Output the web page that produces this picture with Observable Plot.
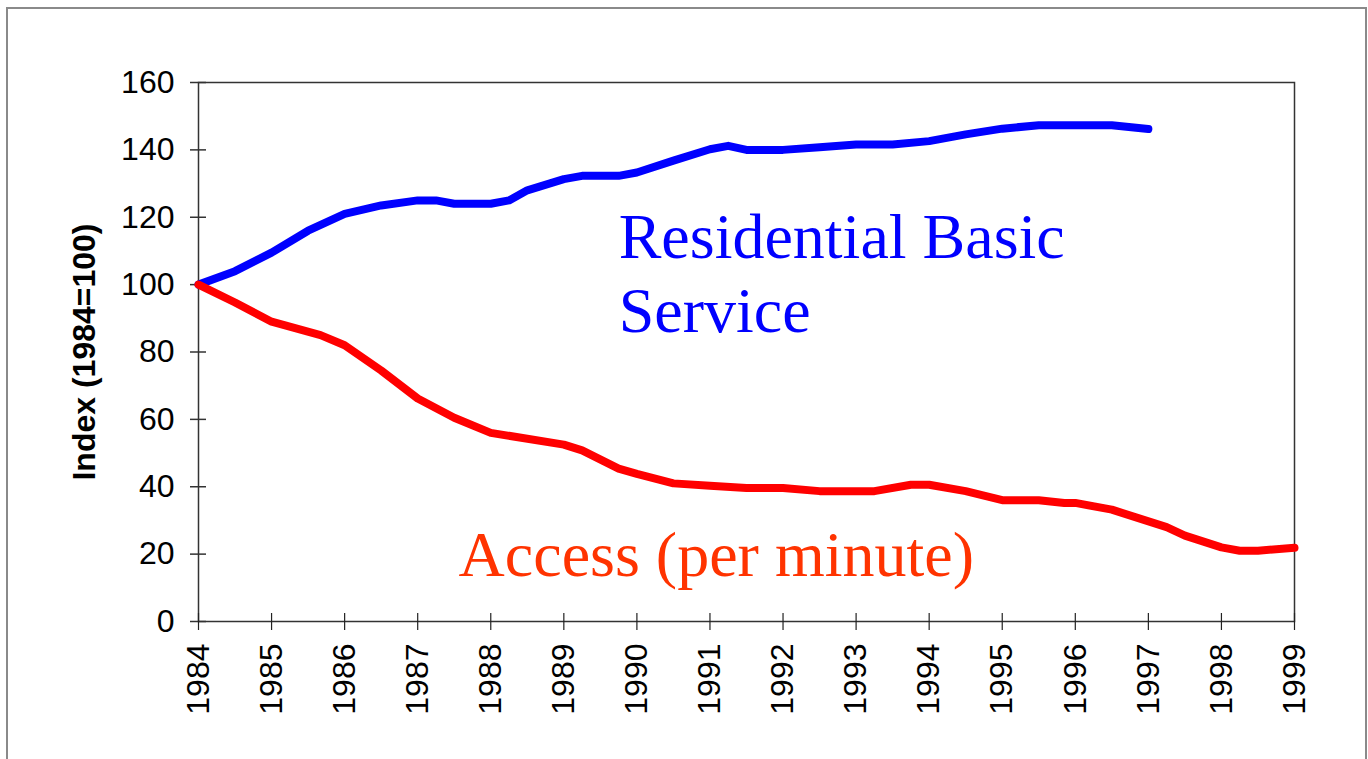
<!DOCTYPE html>
<html><head><meta charset="utf-8">
<script src="https://cdn.jsdelivr.net/npm/d3@7"></script>
<script src="https://cdn.jsdelivr.net/npm/@observablehq/plot@0.6"></script>
<style>
html,body{margin:0;padding:0;background:#fff;overflow:hidden;}
#wrap{position:relative;width:1368px;height:759px;overflow:hidden;}
#border{position:absolute;left:6px;top:7px;width:1361px;height:800px;border:2px solid #8a8a8a;box-sizing:border-box;}
#chart{position:absolute;left:0;top:0;}
</style></head><body>
<div id="wrap"><div id="border"></div><div id="chart"></div></div>
<script>
// Residential Basic Service index (1984=100)
const residentialYears = [1984, 1984.5, 1985, 1985.5, 1986, 1986.5, 1987, 1987.25, 1987.5, 1988, 1988.25, 1988.5, 1989, 1989.25, 1989.75, 1990, 1990.5, 1991, 1991.25, 1991.5, 1992, 1992.5, 1993, 1993.5, 1994, 1994.5, 1995, 1995.5, 1996, 1996.5, 1997];
const residentialValues = [100, 104, 109.5, 116, 121, 123.5, 125, 125, 124, 124, 125, 128, 131.3, 132.3, 132.3, 133.3, 136.8, 140.2, 141.2, 140, 140, 140.8, 141.6, 141.6, 142.6, 144.6, 146.3, 147.3, 147.3, 147.3, 146.2];

// Access (per minute) index (1984=100)
const accessYears = [1984, 1984.5, 1985, 1985.67, 1986, 1986.5, 1987, 1987.5, 1988, 1989, 1989.25, 1989.75, 1990, 1990.5, 1991, 1991.5, 1992, 1992.5, 1993.25, 1993.75, 1994, 1994.5, 1995, 1995.5, 1995.85, 1996, 1996.5, 1997.25, 1997.5, 1998, 1998.25, 1998.5, 1999];
const accessValues = [100, 94.7, 89, 85, 82, 74.5, 66.2, 60.5, 56, 52.5, 50.8, 45.4, 43.8, 41, 40.3, 39.6, 39.6, 38.7, 38.7, 40.6, 40.6, 38.7, 36, 36, 35.2, 35.2, 33.2, 28, 25.5, 22, 21, 21, 21.9];

const yearTicks = [1984, 1985, 1986, 1987, 1988, 1989, 1990, 1991, 1992, 1993, 1994, 1995, 1996, 1997, 1998, 1999];
const valueTicks = [0, 20, 40, 60, 80, 100, 120, 140, 160];

const yAxisLabel = "Index (1984=100)";
const annotations = [
  {text: "Residential Basic\nService", year: 1989.75, value: 123.6, color: "#0000ff"},
  {text: "Access (per minute)", year: 1987.56, value: 29.2, color: "#ff3300"}
];

const residential = residentialYears.map((x, i) => ({x, y: residentialValues[i]}));
const access = accessYears.map((x, i) => ({x, y: accessValues[i]}));

const sans = "'Liberation Sans', Arial, sans-serif";

const chart = Plot.plot({
  width: 1368,
  height: 759,
  marginLeft: 198,
  marginRight: 74,
  marginTop: 82,
  marginBottom: 138,
  style: {fontFamily: sans, background: "transparent", overflow: "visible"},
  x: {domain: [1984, 1999]},
  y: {domain: [0, 160]},
  marks: [
    Plot.frame({stroke: "#333", strokeWidth: 1.5}),
    // crossing tick marks
    Plot.axisY(valueTicks, {tickSize: 16, dx: 8, text: null, stroke: "#333", strokeWidth: 1.5}),
    Plot.axisX(yearTicks, {tickSize: 17, dy: -8, text: null, stroke: "#222", strokeWidth: 1.2}),
    // tick labels
    Plot.axisY(valueTicks, {tickSize: 0, tickPadding: 24, fontSize: 32, fill: "#000", label: null}),
    Plot.axisX(yearTicks, {tickSize: 0, tickPadding: 22, tickRotate: -90, tickFormat: "d", fontSize: 32, fill: "#000", label: null}),
    Plot.text([yAxisLabel], {frameAnchor: "left", dx: -114, rotate: -90, fontSize: 32, fontWeight: "bold", fill: "#000", textAnchor: "middle", lineAnchor: "middle"}),
    Plot.line(residential, {x: "x", y: "y", stroke: "#0000ff", strokeWidth: 8, strokeLinecap: "round", strokeLinejoin: "round"}),
    Plot.line(access, {x: "x", y: "y", stroke: "#ff0000", strokeWidth: 8, strokeLinecap: "round", strokeLinejoin: "round"}),
    Plot.text(annotations, {x: "year", y: "value", text: "text", fill: "color", textAnchor: "start", lineAnchor: "top", lineHeight: 1.16, fontSize: 64, fontFamily: "'Liberation Serif', 'Times New Roman', serif"})
  ]
});
document.getElementById("chart").appendChild(chart);
</script>
</body></html>
